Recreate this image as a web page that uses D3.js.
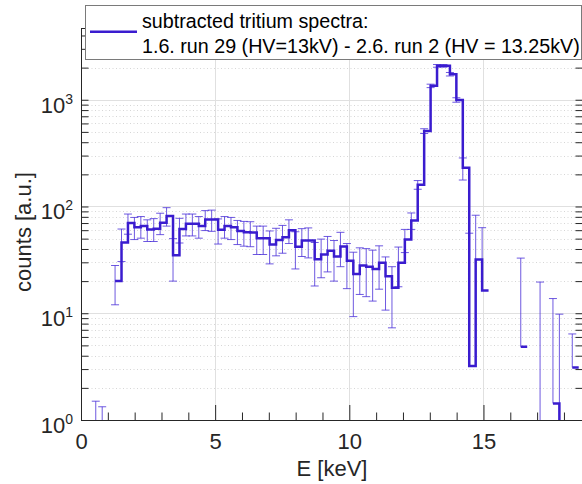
<!DOCTYPE html>
<html>
<head>
<meta charset="utf-8">
<script src="https://cdn.jsdelivr.net/npm/d3@7"></script>
<style>
body { margin: 0; background: #fff; }
svg { display: block; font-family: "Liberation Sans", Arial, Helvetica, sans-serif; }
.axis path, .axis line { stroke: #262626; }
.axis text { fill: #262626; font-size: 22px; font-family: "Liberation Sans", Arial, sans-serif; }
</style>
</head>
<body>
<div id="graphic"></div>
<script>
// bin start energies [keV] (last value closes the last bin)
var binEdges = [0.55, 0.79, 1.03, 1.27, 1.51, 1.75, 1.99, 2.23, 2.47, 2.71, 2.95, 3.19,
  3.43, 3.67, 3.91, 4.15, 4.39, 4.63, 4.87, 5.11, 5.35, 5.59, 5.83, 6.07, 6.31, 6.55,
  6.79, 7.03, 7.27, 7.51, 7.75, 7.99, 8.23, 8.47, 8.71, 8.95, 9.19, 9.43, 9.67, 9.91,
  10.15, 10.39, 10.63, 10.87, 11.11, 11.35, 11.59, 11.83, 12.07, 12.31, 12.55, 12.79,
  13.03, 13.27, 13.51, 13.75, 13.99, 14.23, 14.47, 14.71, 14.95, 15.19, 15.43, 15.67,
  15.91, 16.15, 16.39, 16.63, 16.87, 17.11, 17.35, 17.59, 17.83, 18.07, 18.31, 18.55];

// subtracted counts per bin (null = empty / negative)
var counts = [0.3, 0.3, null,
  20, 46, 70, 64, 65.5, 61, 62, 70.5, 81.5, 35, 61.5, 69, 69, 65.5, 75.5, 75.5,
  60.5, 65.5, 64, 59, 57.5, 57, 50.5, 50.5, 44, 48.5, 51.5, 60, 42, 48, 48, 32,
  35.5, 38.4, 34, 42.3, 31, 23.3, 28, 27.3, 26, 29.8, 22.2, 17.3, 29.7, 49, 74,
  160, 509, 1349, 2077, 2077, 1735, 996, 231, 3.2, 31.8, 16.3,
  null, null, null, null, null, 4.85, null, null, 0.5, null, 1.43, 0.5, null, 3.1];

var countErrors = [1.2, 1.03, null,
  8, 15.5, 15, 15, 15, 14, 15, 16, 16, 15, 16, 16, 16, 15, 16, 17,
  16, 15, 15, 15, 15, 15, 15, 15, 15, 14, 15, 15, 16, 14, 15, 14,
  14, 14, 14, 15, 14, 14, 13, 13, 13, 13, 11.5, 10, 12, 12, 13,
  15, 26, 50, 60, 60, 65, 48, 54, 53, 51, 47,
  null, null, null, null, null, 28, null, null, 19.1, null, 12.3, 9.3, null, 3.3];

var xTicks = [0, 5, 10, 15];
var yTicks = [1, 10, 100, 1000];
var yTickExp = ["0", "1", "2", "3"];
var legendText = ["subtracted tritium spectra:",
  "1.6. run 29 (HV=13kV) - 2.6. run 2 (HV = 13.25kV)"];

var width = 582,
    height = 484;

var plot = {left: 81, right: 583, top: 28, bottom: 420};
var lineColor = "#3a1ccf";

var svg = d3.select("#graphic")
    .append("svg")
    .attr("width", width)
    .attr("height", height);

var x = d3.scaleLinear()
    .domain([0, 18.71])
    .range([plot.left, plot.right]);

var y = d3.scaleLog()
    .domain([1, 4700])
    .range([plot.bottom, plot.top]);

var xMinor = d3.range(1, 19).filter(function(d) { return d % 5 != 0; });
var yMinor = [];
yTicks.forEach(function(dec) {
  for (var m = 2; m <= 9; m++) if (m * dec <= 4700) yMinor.push(m * dec);
});

svg.append("defs").append("clipPath")
    .attr("id", "clip")
  .append("rect")
    .attr("x", plot.left)
    .attr("y", plot.top)
    .attr("width", plot.right - plot.left)
    .attr("height", plot.bottom - plot.top);

// grid
var grid = svg.append("g").attr("class", "grid");

grid.selectAll(".ymin")
    .data(yMinor)
    .enter().append("line")
    .attr("x1", plot.left).attr("x2", plot.right)
    .attr("y1", function(d) { return Math.round(y(d)) + 0.5; })
    .attr("y2", function(d) { return Math.round(y(d)) + 0.5; })
    .attr("stroke", "#d6d6d6")
    .attr("stroke-dasharray", "1,2.5");

grid.selectAll(".ymaj")
    .data(yTicks.slice(1))
    .enter().append("line")
    .attr("x1", plot.left).attr("x2", plot.right)
    .attr("y1", function(d) { return Math.round(y(d)) + 0.5; })
    .attr("y2", function(d) { return Math.round(y(d)) + 0.5; })
    .attr("stroke", "#e0e0e0");

grid.selectAll(".xmaj")
    .data(xTicks.slice(1))
    .enter().append("line")
    .attr("y1", plot.top).attr("y2", plot.bottom)
    .attr("x1", function(d) { return Math.round(x(d)) + 0.5; })
    .attr("x2", function(d) { return Math.round(x(d)) + 0.5; })
    .attr("stroke", "#e0e0e0");

var data = counts.map(function(v, i) {
  return {x0: binEdges[i], x1: binEdges[i + 1], v: v, e: countErrors[i]};
});

var chart = svg.append("g").attr("clip-path", "url(#clip)");

// error bars (lower half dropped where it would go below zero)
var bars = chart.append("g")
    .attr("stroke", "#4a2fd8")
    .attr("stroke-opacity", 0.8)
    .attr("stroke-width", 1)
    .selectAll("g")
    .data(data.filter(function(d) { return d.v != null && d.e != null; }))
    .enter().append("g");

bars.append("line")
    .attr("x1", function(d) { return x(d.x0); })
    .attr("x2", function(d) { return x(d.x0); })
    .attr("y1", function(d) { return y(d.v - d.e > 0 ? d.v - d.e : d.v); })
    .attr("y2", function(d) { return y(d.v + d.e); });

bars.append("line")
    .attr("x1", function(d) { return x(d.x0) - 4; })
    .attr("x2", function(d) { return x(d.x0) + 4; })
    .attr("y1", function(d) { return y(d.v + d.e); })
    .attr("y2", function(d) { return y(d.v + d.e); });

bars.filter(function(d) { return d.v - d.e > 0; })
  .append("line")
    .attr("x1", function(d) { return x(d.x0) - 4; })
    .attr("x2", function(d) { return x(d.x0) + 4; })
    .attr("y1", function(d) { return y(d.v - d.e); })
    .attr("y2", function(d) { return y(d.v - d.e); });

// stairs
var stairPts = [];
data.forEach(function(d) {
  stairPts.push({x: d.x0, v: d.v});
  stairPts.push({x: d.x1, v: d.v});
});

var stairs = d3.line()
    .defined(function(d) { return d.v != null; })
    .x(function(d) { return x(d.x); })
    .y(function(d) { return y(d.v); });

chart.append("path")
    .datum(stairPts)
    .attr("fill", "none")
    .attr("stroke", lineColor)
    .attr("stroke-width", 2.5)
    .attr("d", stairs);

// axes (MATLAB style box, ticks inward)
function noLabel() { return ""; }

svg.append("g")
    .attr("class", "axis")
    .attr("transform", "translate(0," + plot.bottom + ")")
    .call(d3.axisBottom(x).tickValues(xMinor).tickSizeInner(-7.5).tickSizeOuter(0).tickFormat(noLabel));

svg.append("g")
    .attr("class", "axis")
    .attr("transform", "translate(0," + plot.bottom + ")")
    .call(d3.axisBottom(x).tickValues(xTicks).tickSizeInner(-15).tickSizeOuter(0).tickPadding(13));

svg.append("g")
    .attr("class", "axis")
    .attr("transform", "translate(0," + plot.top + ")")
    .call(d3.axisTop(x).tickValues(xTicks.concat(xMinor)).tickSizeInner(-7.5).tickSizeOuter(0).tickFormat(noLabel));

svg.append("g")
    .attr("class", "axis")
    .attr("transform", "translate(" + plot.left + ",0)")
    .call(d3.axisLeft(y).tickValues(yTicks.concat(yMinor)).tickSizeInner(-7.5).tickSizeOuter(0).tickFormat(noLabel));

svg.append("g")
    .attr("class", "axis")
    .attr("transform", "translate(" + plot.right + ",0)")
    .call(d3.axisRight(y).tickValues(yTicks.concat(yMinor)).tickSizeInner(-7.5).tickSizeOuter(0).tickFormat(noLabel));

// y tick labels 10^n
var yLab = svg.append("g")
    .attr("fill", "#262626")
    .attr("text-anchor", "end")
    .selectAll("text")
    .data(yTicks)
    .enter().append("text")
    .attr("x", 73)
    .attr("y", function(d) { return y(d) + 13; })
    .attr("font-size", 22);

yLab.append("tspan").text("10");
yLab.append("tspan")
    .attr("dy", -9)
    .attr("font-size", 14)
    .text(function(d, i) { return yTickExp[i]; });

svg.append("text")
    .attr("x", (plot.left + plot.right) / 2)
    .attr("y", 476)
    .attr("text-anchor", "middle")
    .attr("font-size", 22)
    .attr("fill", "#262626")
    .text("E [keV]");

svg.append("text")
    .attr("transform", "translate(31,232) rotate(-90)")
    .attr("text-anchor", "middle")
    .attr("font-size", 22)
    .attr("fill", "#262626")
    .text("counts [a.u.]");

// legend
var legend = svg.append("g").attr("class", "legend");

legend.append("rect")
    .attr("x", 85.5)
    .attr("y", 5.5)
    .attr("width", 496)
    .attr("height", 54)
    .attr("fill", "#fff")
    .attr("stroke", "#7a7a7a");

legend.append("line")
    .attr("x1", 90).attr("x2", 137)
    .attr("y1", 31.7).attr("y2", 31.7)
    .attr("stroke", lineColor)
    .attr("stroke-width", 2.5);

legend.selectAll("text")
    .data(legendText)
    .enter().append("text")
    .attr("x", 142)
    .attr("y", function(d, i) { return 28 + i * 25; })
    .attr("font-size", 19.7)
    .attr("fill", "#000")
    .text(function(d) { return d; });
</script>
</body>
</html>
